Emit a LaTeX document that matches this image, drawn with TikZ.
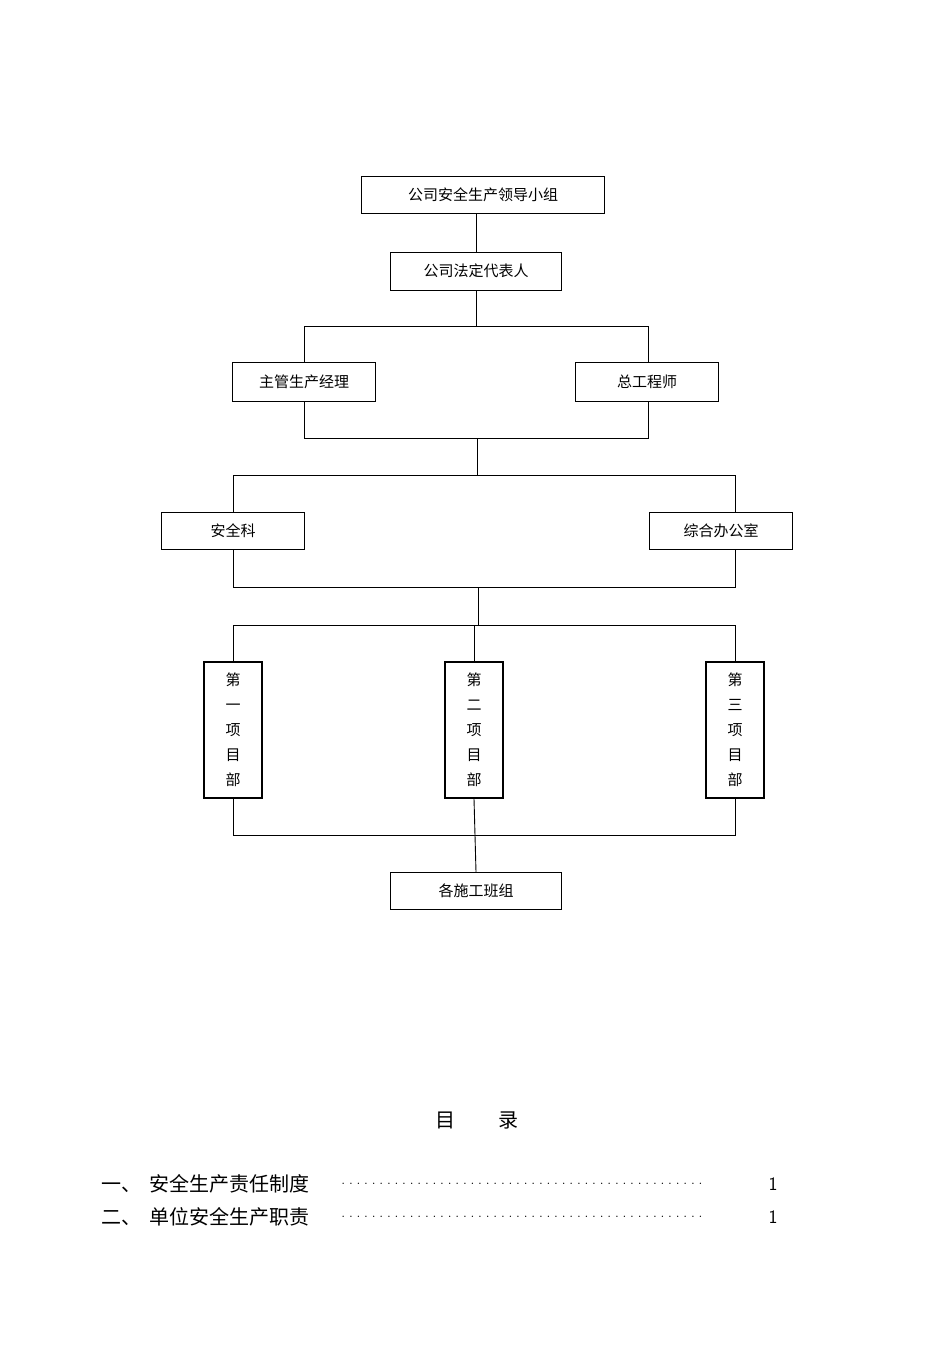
\documentclass[tikz,border=0pt]{standalone}
\usepackage{fontspec}
\newfontfamily\cjk{Noto Sans CJK SC}
\begin{document}
\begin{tikzpicture}[x=1pt,y=-1pt,
 bx/.style={draw,line width=0.9pt,inner sep=0pt,font=\cjk\fontsize{15}{18}\selectfont},
 vb/.style={draw,line width=1.4pt,inner sep=0pt,font=\cjk\fontsize{15}{25}\selectfont,align=center},
 ln/.style={line width=0.9pt}]
\useasboundingbox (0,0) rectangle (950,1346);
\node[bx,minimum width=243,minimum height=37] (a) at (483,195) {公司安全生产领导小组};
\node[bx,minimum width=171,minimum height=38] (b) at (476,271) {公司法定代表人};
\node[bx,minimum width=143,minimum height=39] (c1) at (304,382) {主管生产经理};
\node[bx,minimum width=143,minimum height=39] (c2) at (647,382) {总工程师};
\node[bx,minimum width=143,minimum height=37] (d1) at (233,531) {安全科};
\node[bx,minimum width=143,minimum height=37] (d2) at (721,531) {综合办公室};
\node[vb,minimum width=58,minimum height=136] (e1) at (233,730) {第\\一\\项\\目\\部};
\node[vb,minimum width=58,minimum height=136] (e2) at (474,730) {第\\二\\项\\目\\部};
\node[vb,minimum width=58,minimum height=136] (e3) at (735,730) {第\\三\\项\\目\\部};
\node[bx,minimum width=171,minimum height=37] (f) at (476,891) {各施工班组};
\coordinate (h1) at (476,326); \coordinate (h2) at (477,438);
\coordinate (h3) at (477,475); \coordinate (h4) at (478,587);
\coordinate (h5) at (478,625); \coordinate (h6) at (476,835);
\draw[ln] (b.north -| 476,0) -- (476,214);
\draw[ln] (b.south) -- (h1);
\draw[ln] (c1.north) -- (304,326) -- (648,326) -- (c2.north -| 648,0);
\draw[ln] (c1.south) -- (304,438) -- (648,438) -- (648,402);
\draw[ln] (h2) -- (h3);
\draw[ln] (d1.north) -- (233,475) -- (735,475) -- (735,513);
\draw[ln] (d1.south) -- (233,587) -- (735,587) -- (735,550);
\draw[ln] (h4) -- (h5);
\draw[ln] (e1.north) -- (233,625) -- (735,625) -- (e3.north);
\draw[ln] (474,625) -- (e2.north);
\draw[ln] (e1.south) -- (233,835) -- (735,835) -- (e3.south);
\draw[ln] (e2.south) -- (f.north);
\node[font=\cjk\fontsize{20}{24}\selectfont] (t) at (477,1120) {目\hspace{2.2em}录};
\node[font=\cjk\fontsize{20}{24}\selectfont,anchor=west] (l1) at (98,1184) {一、\hspace{0.4em}安全生产责任制度};
\node[font=\cjk\fontsize{20}{24}\selectfont,anchor=west] (l2) at (98,1217) {二、\hspace{0.4em}单位安全生产职责};
\node[font=\fontsize{14}{16}\selectfont,anchor=west] (d1x) at (336,1184) {\dotfill\makebox[365pt]{\leaders\hbox to 7.6pt{\hss.\hss}\hfill}};
\node[font=\fontsize{14}{16}\selectfont,anchor=west] (d2x) at (336,1217) {\makebox[365pt]{\leaders\hbox to 7.6pt{\hss.\hss}\hfill}};
\node[font=\sffamily\fontsize{19}{22}\selectfont] (p1) at (773,1184) {1};
\node[font=\sffamily\fontsize{19}{22}\selectfont] (p2) at (773,1217) {1};
\end{tikzpicture}
\end{document}
